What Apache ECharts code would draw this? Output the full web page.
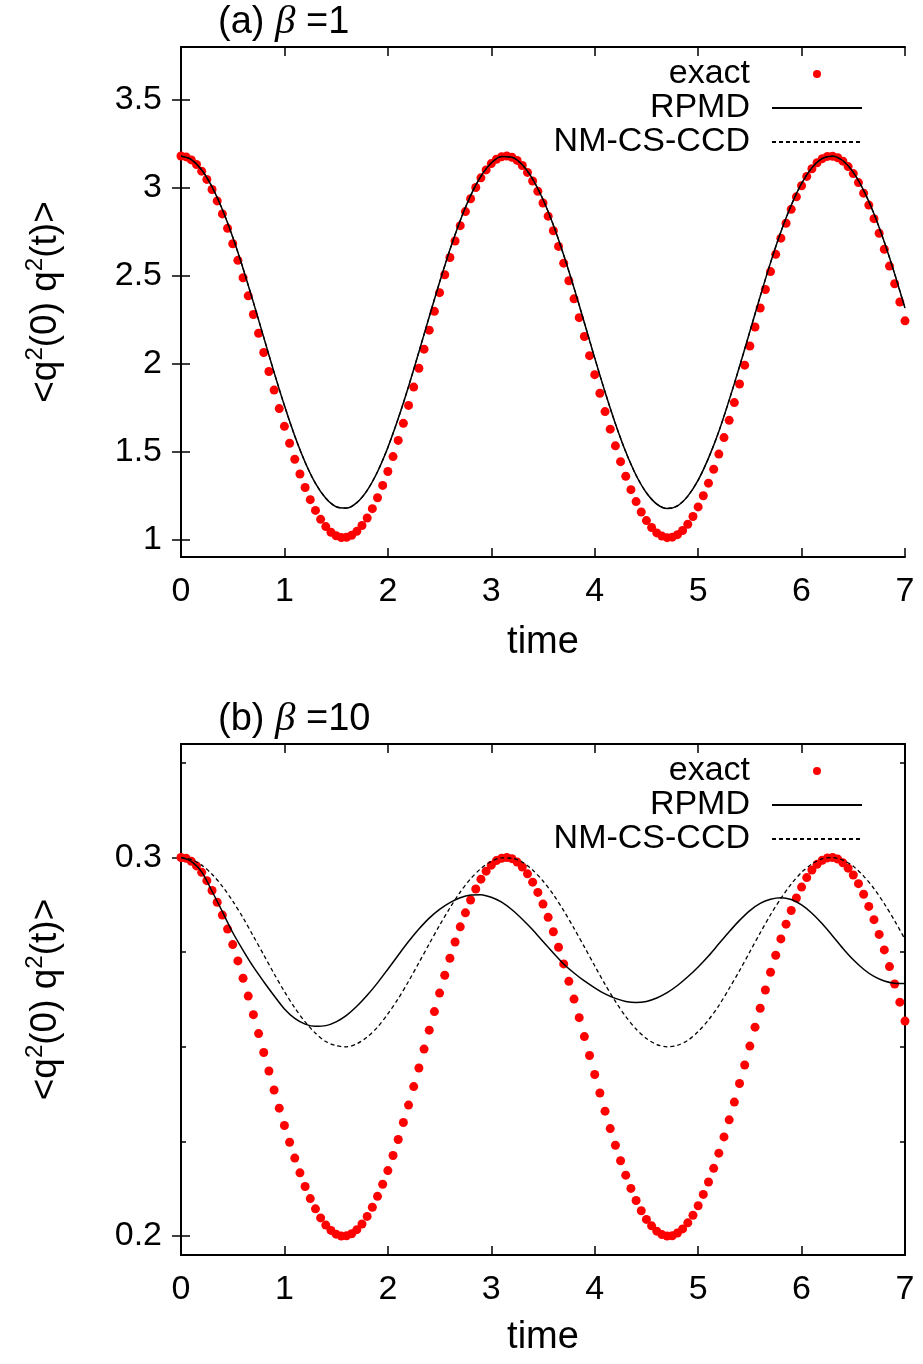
<!DOCTYPE html>
<html><head><meta charset="utf-8">
<script src="https://cdn.jsdelivr.net/npm/echarts@6/dist/echarts.min.js"></script>
<style>html,body{margin:0;padding:0;background:#fff}#c{width:923px;height:1364px}</style>
</head><body><div id="c"></div>
<script>
// time grids
const tFine = [0,0.05,0.1,0.15,0.2,0.25,0.3,0.35,0.4,0.45,0.5,0.55,0.6,0.65,0.7,0.75,0.8,0.85,0.9,0.95,
1,1.05,1.1,1.15,1.2,1.25,1.3,1.35,1.4,1.45,1.5,1.55,1.6,1.65,1.7,1.75,1.8,1.85,1.9,1.95,
2,2.05,2.1,2.15,2.2,2.25,2.3,2.35,2.4,2.45,2.5,2.55,2.6,2.65,2.7,2.75,2.8,2.85,2.9,2.95,
3,3.05,3.1,3.15,3.2,3.25,3.3,3.35,3.4,3.45,3.5,3.55,3.6,3.65,3.7,3.75,3.8,3.85,3.9,3.95,
4,4.05,4.1,4.15,4.2,4.25,4.3,4.35,4.4,4.45,4.5,4.55,4.6,4.65,4.7,4.75,4.8,4.85,4.9,4.95,
5,5.05,5.1,5.15,5.2,5.25,5.3,5.35,5.4,5.45,5.5,5.55,5.6,5.65,5.7,5.75,5.8,5.85,5.9,5.95,
6,6.05,6.1,6.15,6.2,6.25,6.3,6.35,6.4,6.45,6.5,6.55,6.6,6.65,6.7,6.75,6.8,6.85,6.9,6.95,7];
const tCoarse = [0,0.1,0.2,0.3,0.4,0.5,0.6,0.7,0.8,0.9,1,1.1,1.2,1.3,1.4,1.5,1.6,1.7,1.8,1.9,
2,2.1,2.2,2.3,2.4,2.5,2.6,2.7,2.8,2.9,3,3.1,3.2,3.3,3.4,3.5,3.6,3.7,3.8,3.9,
4,4.1,4.2,4.3,4.4,4.5,4.6,4.7,4.8,4.9,5,5.1,5.2,5.3,5.4,5.5,5.6,5.7,5.8,5.9,
6,6.1,6.2,6.3,6.4,6.5,6.6,6.7,6.8,6.9,7];

// panel (a) beta = 1
const exactA = [3.180,3.175,3.158,3.132,3.094,3.047,2.990,2.925,2.851,2.769,
2.681,2.587,2.488,2.385,2.279,2.172,2.063,1.955,1.849,1.744,
1.643,1.547,1.456,1.372,1.295,1.226,1.165,1.114,1.073,1.041,
1.021,1.011,1.012,1.024,1.046,1.079,1.122,1.175,1.237,1.307,
1.386,1.471,1.563,1.660,1.762,1.866,1.973,2.082,2.190,2.297,
2.403,2.505,2.603,2.697,2.784,2.864,2.937,3.001,3.056,3.101,
3.137,3.162,3.176,3.180,3.173,3.155,3.126,3.087,3.038,2.980,
2.913,2.838,2.755,2.666,2.571,2.471,2.368,2.261,2.154,2.045,
1.937,1.831,1.727,1.627,1.532,1.442,1.359,1.283,1.215,1.156,
1.107,1.068,1.037,1.019,1.010,1.013,1.027,1.051,1.086,1.130,
1.185,1.248,1.320,1.399,1.485,1.579,1.677,1.778,1.884,1.991,
2.100,2.208,2.316,2.421,2.523,2.621,2.713,2.798,2.877,2.948,
3.011,3.064,3.108,3.142,3.165,3.178,3.179,3.170,3.151,3.120,
3.080,3.029,2.969,2.901,2.824,2.741,2.650,2.554,2.454,2.350,
2.243];
const rpmdA = [3.180,3.160,3.101,3.005,2.876,2.719,2.541,2.348,2.149,1.950,
1.761,1.588,1.439,1.319,1.234,1.186,1.178,1.209,1.279,1.385,
1.523,1.687,1.870,2.066,2.266,2.462,2.647,2.814,2.955,3.065,
3.140,3.177,3.173,3.130,3.049,2.933,2.788,2.617,2.430,2.232,
2.032,1.838,1.658,1.498,1.365,1.265,1.201,1.176,1.191,1.246,
1.337,1.462,1.614,1.792,1.983,2.182,2.382,2.574,2.749,2.900,
3.024,3.113,3.166,3.179,3.153,3.087,2.985,2.852,2.691,2.510,
2.315];
const ccdA = [3.180,3.160,3.101,3.005,2.876,2.719,2.541,2.348,2.149,1.950,
1.761,1.588,1.439,1.319,1.234,1.186,1.178,1.209,1.279,1.385,
1.523,1.687,1.870,2.066,2.266,2.462,2.647,2.814,2.955,3.065,
3.140,3.177,3.173,3.130,3.049,2.933,2.788,2.617,2.430,2.232,
2.032,1.838,1.658,1.498,1.365,1.265,1.201,1.176,1.191,1.246,
1.337,1.462,1.614,1.792,1.983,2.182,2.382,2.574,2.749,2.900,
3.024,3.113,3.166,3.179,3.153,3.087,2.985,2.852,2.691,2.510,
2.315];

// panel (b) beta = 10
const exactB = [0.3000,0.2998,0.2990,0.2978,0.2961,0.2939,0.2913,0.2882,0.2848,0.2811,
0.2770,0.2727,0.2681,0.2634,0.2585,0.2535,0.2485,0.2436,0.2386,0.2338,
0.2292,0.2248,0.2206,0.2167,0.2131,0.2099,0.2072,0.2048,0.2029,0.2015,
0.2005,0.2000,0.2001,0.2006,0.2017,0.2032,0.2052,0.2076,0.2105,0.2137,
0.2173,0.2213,0.2255,0.2300,0.2346,0.2395,0.2444,0.2494,0.2544,0.2593,
0.2642,0.2689,0.2734,0.2777,0.2817,0.2854,0.2888,0.2917,0.2943,0.2964,
0.2980,0.2992,0.2998,0.3000,0.2997,0.2988,0.2975,0.2957,0.2935,0.2908,
0.2877,0.2842,0.2804,0.2763,0.2719,0.2673,0.2626,0.2577,0.2527,0.2477,
0.2427,0.2378,0.2330,0.2284,0.2240,0.2199,0.2161,0.2126,0.2094,0.2067,
0.2044,0.2027,0.2013,0.2004,0.2000,0.2001,0.2008,0.2019,0.2035,0.2055,
0.2080,0.2110,0.2143,0.2179,0.2219,0.2262,0.2307,0.2354,0.2403,0.2452,
0.2502,0.2552,0.2602,0.2650,0.2697,0.2742,0.2785,0.2824,0.2860,0.2893,
0.2922,0.2947,0.2967,0.2982,0.2993,0.2999,0.3000,0.2996,0.2986,0.2972,
0.2954,0.2931,0.2903,0.2871,0.2836,0.2797,0.2756,0.2712,0.2666,0.2618,
0.2568];
const rpmdB = [0.3000,0.2990,0.2962,0.2911,0.2857,0.2802,0.2755,0.2711,0.2672,0.2635,
0.2600,0.2575,0.2560,0.2554,0.2556,0.2566,0.2583,0.2607,0.2636,0.2669,
0.2705,0.2742,0.2778,0.2811,0.2840,0.2863,0.2881,0.2894,0.2901,0.2902,
0.2895,0.2882,0.2862,0.2837,0.2809,0.2778,0.2748,0.2719,0.2695,0.2674,
0.2656,0.2640,0.2628,0.2620,0.2617,0.2620,0.2629,0.2643,0.2662,0.2685,
0.2711,0.2740,0.2772,0.2804,0.2834,0.2860,0.2879,0.2890,0.2894,0.2889,
0.2875,0.2853,0.2825,0.2793,0.2760,0.2730,0.2705,0.2686,0.2674,0.2668,
0.2667];
const ccdB = [0.3000,0.2995,0.2980,0.2956,0.2924,0.2885,0.2841,0.2792,0.2743,0.2693,
0.2646,0.2603,0.2566,0.2536,0.2514,0.2503,0.2500,0.2508,0.2526,0.2552,
0.2587,0.2627,0.2673,0.2722,0.2772,0.2821,0.2867,0.2909,0.2944,0.2971,
0.2990,0.2999,0.2998,0.2988,0.2967,0.2938,0.2902,0.2860,0.2813,0.2764,
0.2714,0.2665,0.2620,0.2580,0.2547,0.2522,0.2506,0.2500,0.2504,0.2517,
0.2540,0.2571,0.2609,0.2654,0.2701,0.2751,0.2801,0.2849,0.2892,0.2930,
0.2961,0.2983,0.2997,0.3000,0.2993,0.2977,0.2951,0.2918,0.2878,0.2833,
0.2784];

// tick values
const yTicksA = [1, 1.5, 2, 2.5, 3, 3.5];
const yTicksB = [0.2, 0.3];
const yMinorB = [0.225, 0.25, 0.275, 0.325];

const FONT = '"Liberation Sans", Arial, Helvetica, sans-serif';

function pairs(t, v) { return t.map((x, i) => [x, v[i]]); }

const lineAx = { show: true, lineStyle: { color: '#000', width: 2 } };
function xAxis(grid, pos, withLabels, gap) {
  return {
    type: 'value', gridIndex: grid, position: pos, min: 0, max: 7, interval: 1,
    axisLine: lineAx,
    axisTick: { show: true, inside: true, length: 9, lineStyle: { color: '#000', width: 1.5 } },
    axisLabel: { show: withLabels, color: '#000', fontSize: 34, fontFamily: FONT, margin: 18 },
    splitLine: { show: false },
    name: withLabels ? 'time' : '', nameLocation: 'middle', nameGap: gap,
    nameTextStyle: { color: '#000', fontSize: 38, fontFamily: FONT, lineHeight: 40 }
  };
}
function yAxis(grid, pos, min, max, ticks, withLabels, tickLen) {
  return {
    type: 'value', gridIndex: grid, position: pos, min: min, max: max,
    axisLine: lineAx,
    axisTick: { show: true, inside: true, length: tickLen, customValues: ticks, lineStyle: { color: '#000', width: 1.5 } },
    axisLabel: { show: withLabels, customValues: ticks, color: '#000', fontSize: 34, fontFamily: FONT, margin: 19 },
    splitLine: { show: false },
    name: withLabels ? '<q{s|2}(0) q{s|2}(t)>' : '', nameLocation: 'middle', nameRotate: 90, nameGap: 112,
    nameTextStyle: { color: '#000', fontSize: 37, fontFamily: FONT, lineHeight: 46,
      rich: { s: { fontSize: 24, fontFamily: FONT, color: '#000', verticalAlign: 'top', lineHeight: 24 } } }
  };
}

function seriesFor(xi, yi, ex, rp, cc) {
  return [
    { name: 'exact', type: 'scatter', xAxisIndex: xi, yAxisIndex: yi, data: pairs(tFine, ex),
      symbol: 'circle', symbolSize: 9, itemStyle: { color: '#ff0000', opacity: 1 }, z: 2 },
    { name: 'RPMD', type: 'line', xAxisIndex: xi, yAxisIndex: yi, data: pairs(tCoarse, rp),
      symbol: 'none', showSymbol: false, smooth: 0.3, itemStyle: { color: '#000' },
      lineStyle: { color: '#000', width: 1.5 }, z: 3 },
    { name: 'NM-CS-CCD', type: 'line', xAxisIndex: xi, yAxisIndex: yi, data: pairs(tCoarse, cc),
      symbol: 'none', showSymbol: false, smooth: 0.3, itemStyle: { color: '#000' },
      lineStyle: { color: '#000', width: 1.3, type: [4, 3] }, z: 4 }
  ];
}

function legendAt(top) {
  return {
    data: [
      { name: 'exact', icon: 'circle', itemStyle: { color: '#ff0000', opacity: 1 } },
      { name: 'RPMD', itemStyle: { opacity: 0 } },
      { name: 'NM-CS-CCD', itemStyle: { opacity: 0 } }
    ],
    orient: 'vertical', right: 60, top: top, align: 'right', padding: 0,
    itemWidth: 90, itemHeight: 8, itemGap: 0, selectedMode: false,
    textStyle: { color: '#000', fontSize: 34, fontFamily: FONT, lineHeight: 33, padding: [0, 17, 0, 0] }
  };
}
function titleAt(text, top) {
  return {
    text: text, left: 218, top: top, padding: 0,
    textStyle: { color: '#000', fontSize: 38, fontWeight: 'normal', fontFamily: FONT,
      rich: { b: { fontSize: 41, fontStyle: 'italic', fontFamily: '"Liberation Serif", "DejaVu Serif", serif', color: '#000' } } }
  };
}

const chart = echarts.init(document.getElementById('c'), null, { renderer: 'canvas' });
chart.setOption({
  animation: false,
  backgroundColor: '#fff',
  title: [titleAt('(a) {b|β} =1', 2), titleAt('(b) {b|β} =10', 699)],
  legend: [legendAt(57), legendAt(754)],
  grid: [
    { left: 181, right: 18, top: 47, height: 510 },
    { left: 181, right: 18, top: 744, height: 511 }
  ],
  xAxis: [
    xAxis(0, 'bottom', true, 66), xAxis(0, 'top', false, 0),
    xAxis(1, 'bottom', true, 63), xAxis(1, 'top', false, 0)
  ],
  yAxis: [
    yAxis(0, 'left', 0.9, 3.8, yTicksA, true, 9),
    yAxis(0, 'right', 0.9, 3.8, yTicksA, false, 9),
    yAxis(1, 'left', 0.195, 0.33, yTicksB, true, 9),
    yAxis(1, 'right', 0.195, 0.33, yTicksB, false, 9),
    yAxis(1, 'left', 0.195, 0.33, yMinorB, false, 5),
    yAxis(1, 'right', 0.195, 0.33, yMinorB, false, 5)
  ],
  series: [].concat(seriesFor(0, 0, exactA, rpmdA, ccdA), seriesFor(2, 2, exactB, rpmdB, ccdB))
});
</script>
</body></html>
